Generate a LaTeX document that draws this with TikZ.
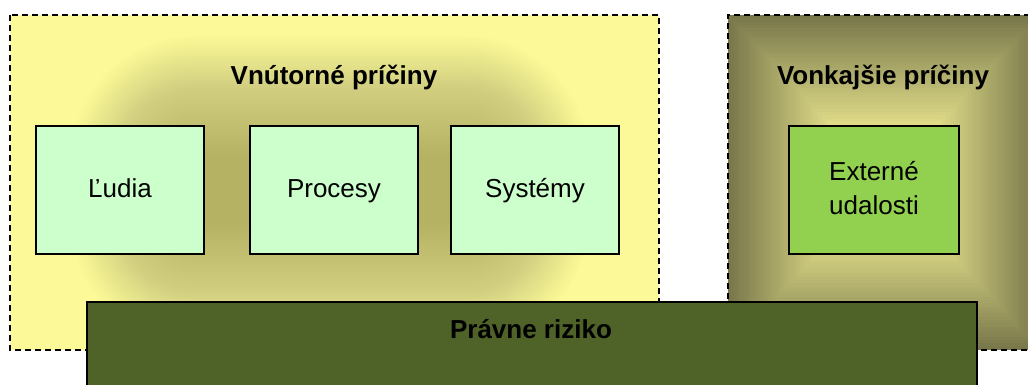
\documentclass[tikz,border=0pt]{standalone}
\usepackage{fontspec}
\setmainfont{Liberation Sans}
\definecolor{inyellow}{HTML}{FCFA98}
\definecolor{glowc}{HTML}{959056}
\definecolor{outdark}{HTML}{78774A}
\definecolor{outlight}{HTML}{E8E48E}
\definecolor{cellgreen}{HTML}{CCFFCC}
\definecolor{extgreen}{HTML}{92D050}
\definecolor{barolive}{HTML}{4F6228}
\tikzset{
  frame/.style={draw=black, line width=1.3pt, dash pattern=on 6pt off 4pt},
  cell/.style={draw=black, line width=1.5pt, fill=cellgreen, minimum width=168pt,
    minimum height=128pt, inner sep=0pt, font=\fontsize{26}{34}\selectfont,
    text height=19pt, text depth=5pt},
  extcell/.style={cell, fill=extgreen, align=center, text height=48pt, text depth=0pt},
  heading/.style={font=\fontsize{26}{30}\selectfont\bfseries, inner sep=0pt, anchor=base}
}
\begin{document}
\begin{tikzpicture}[x=1pt,y=-1pt]
\useasboundingbox (0,0) rectangle (1028,385);
\clip (0,0) rectangle (1028,385);

% internal causes: yellow panel with a soft glow behind the cells
\fill[inyellow] (10,15) rectangle (659,350);
\begin{scope}
  \clip (10,15) rectangle (659,350);
  \foreach \i in {0,...,49}{
    \pgfmathsetmacro{\d}{124-2.45*\i}
    \fill[glowc, fill opacity=0.0165, rounded corners=\d pt]
      (195-\d, 160-\d) rectangle (465+\d, 220+\d);
  }
\end{scope}
\draw[frame] (10,15) rectangle (659,350);

% external causes: path-like shading, dark at the rim, light at the centre
\foreach \i in {0,...,50}{
  \pgfmathsetmacro{\p}{min(100,\i*2.86)}
  \fill[outlight!\p!outdark]
    (728+3.12*\i, 15+3.34*\i) rectangle (1040-3.12*\i, 350-3.34*\i);
}
\draw[frame] (1040,15) -- (728,15) -- (728,350) -- (1040,350);

% headings
\node[heading] (inner) at (334,85) {Vnútorné príčiny};
\node[heading] (outer) at (883,85) {Vonkajšie príčiny};

% cells
\node[cell] (ludia) at (120,190) {Ľudia};
\node[cell] (procesy) at (334,190) {Procesy};
\node[cell] (systemy) at (535,190) {Systémy};
\node[extcell, minimum width=170pt] (externe) at (874,190) {Externé\\udalosti};

% legal risk bar
\node[draw=black, line width=1.5pt, fill=barolive, minimum width=890pt,
  minimum height=100pt, inner sep=0pt] (bar) at (532,352) {};
\node[heading] (barlabel) at (531,338) {Právne riziko};
\end{tikzpicture}
\end{document}
